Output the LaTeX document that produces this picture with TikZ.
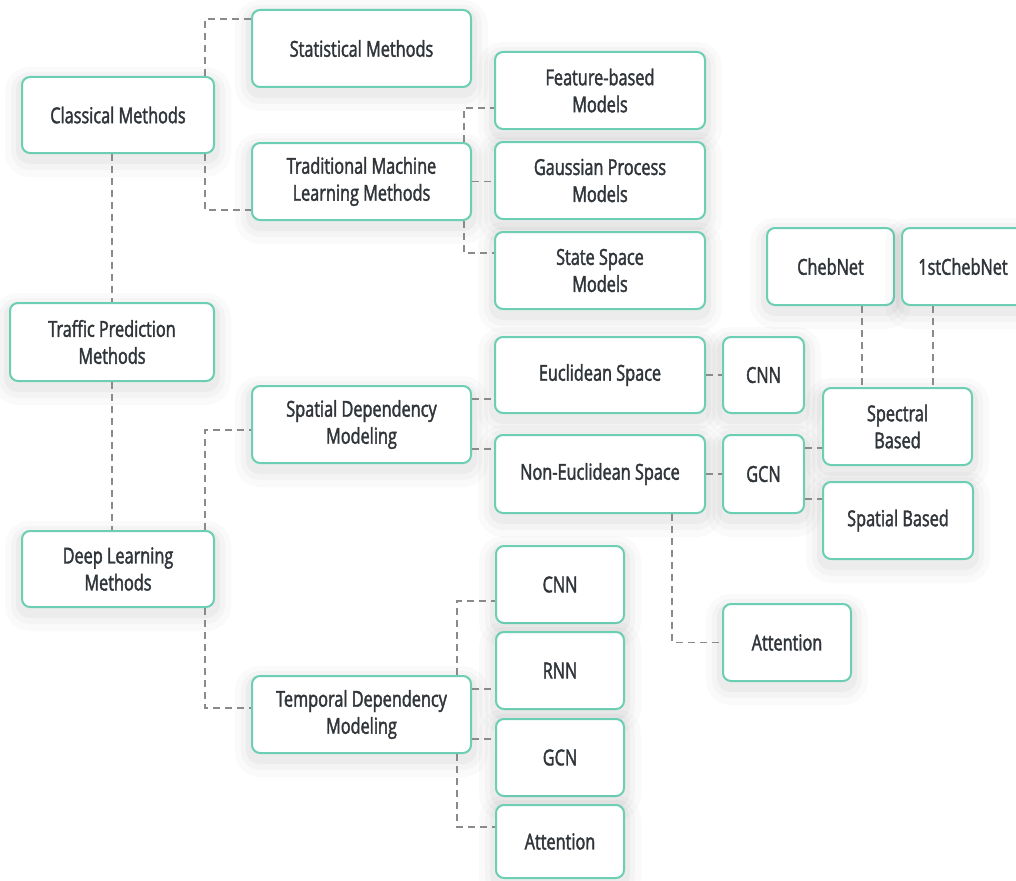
\documentclass[tikz,border=0pt]{standalone}
\usepackage{fontspec}
\setmainfont{Open Sans}[FakeStretch=0.74, FakeBold=1.8]
\definecolor{boxline}{HTML}{6CCFB3}
\definecolor{txt}{HTML}{30353A}
\definecolor{conn}{HTML}{8A8A8A}
\tikzset{
  box/.style={draw=boxline, line width=2pt, rounded corners=8pt, fill=white,
    align=center, text=txt, inner sep=0pt,
    font=\fontsize{22}{27}\selectfont,
    preaction={draw=black, draw opacity=0.018, line width=34pt, transform canvas={yshift=-7pt}},
    preaction={draw=black, draw opacity=0.022, line width=22pt, transform canvas={yshift=-6pt}},
    preaction={draw=black, draw opacity=0.03, line width=12pt, transform canvas={yshift=-5pt}}},
  link/.style={draw=conn, line width=1.9pt, dash pattern=on 7pt off 5pt}
}
\begin{document}
\begin{tikzpicture}[x=1pt,y=-1pt]
\useasboundingbox[fill=white] (0,0) rectangle (1016,880);
% column 1
\node[box, minimum width=192pt, minimum height=76pt] (classical) at (118,115) {Classical Methods};
\node[box, minimum width=204pt, minimum height=78pt] (traffic) at (112,342) {Traffic Prediction\\Methods};
\node[box, minimum width=192pt, minimum height=76pt] (deep) at (118,569) {Deep Learning\\Methods};
% column 2
\node[box, minimum width=219pt, minimum height=77pt] (stat) at (361.5,48.5) {Statistical Methods};
\node[box, minimum width=219pt, minimum height=77pt] (trad) at (361.5,181.5) {Traditional Machine\\Learning Methods};
\node[box, minimum width=219pt, minimum height=77pt] (spdep) at (361.5,424.5) {Spatial Dependency\\Modeling};
\node[box, minimum width=219pt, minimum height=77pt] (temporal) at (361.5,714.5) {Temporal Dependency\\Modeling};
% column 3
\node[box, minimum width=210pt, minimum height=77pt] (feat) at (600,90.5) {Feature-based\\Models};
\node[box, minimum width=210pt, minimum height=77pt] (gauss) at (600,180.5) {Gaussian Process\\Models};
\node[box, minimum width=210pt, minimum height=77pt] (state) at (600,270.5) {State Space\\Models};
\node[box, minimum width=210pt, minimum height=76pt] (eucl) at (600,375) {Euclidean Space};
\node[box, minimum width=210pt, minimum height=78pt] (noneu) at (600,474) {Non-Euclidean Space};
\node[box, minimum width=128pt, minimum height=77pt] (cnn2) at (560,584.5) {CNN};
\node[box, minimum width=128pt, minimum height=77pt] (rnn) at (560,670.5) {RNN};
\node[box, minimum width=128pt, minimum height=77pt] (gcn2) at (560,757.5) {GCN};
\node[box, minimum width=128pt, minimum height=73pt] (att2) at (560,841.5) {Attention};
% column 4
\node[box, minimum width=81pt, minimum height=76pt] (cnn1) at (763.5,375) {CNN};
\node[box, minimum width=81pt, minimum height=78pt] (gcn1) at (763.5,474) {GCN};
\node[box, minimum width=128pt, minimum height=77pt] (att1) at (787,642.5) {Attention};
% column 5
\node[box, minimum width=127pt, minimum height=77pt] (cheb) at (830.5,266.5) {ChebNet};
\node[box, minimum width=122pt, minimum height=77pt] (first) at (963,266.5) {1stChebNet};
\node[box, minimum width=149pt, minimum height=77pt] (spectral) at (897.5,426.5) {Spectral\\Based};
\node[box, minimum width=150pt, minimum height=77pt] (spatialb) at (898,520.5) {Spatial Based};
% connectors
\draw[link] ([xshift=-10pt]classical.north east) |- ([yshift=-10pt]stat.north west);
\draw[link] ([xshift=-10pt]classical.south east) |- ([yshift=11pt]trad.south west);
\draw[link] (traffic.north |- classical.south) -- (traffic.north);
\draw[link] (traffic.south) -- (traffic.south |- deep.north);
\draw[link] ([xshift=-10pt]deep.north east) |- ([yshift=-5.5pt]spdep.west);
\draw[link] ([xshift=-10pt]deep.south east) |- ([yshift=6.5pt]temporal.west);
\draw[link] ([xshift=-8pt]trad.north east) |- ([yshift=-17.5pt]feat.west);
\draw[link] (trad.east) -- (trad.east -| gauss.west);
\draw[link] ([xshift=-8pt]trad.south east) |- ([yshift=17.5pt]state.west);
\draw[link] ([yshift=25.5pt]spdep.east) -- ([yshift=25.5pt]spdep.east -| eucl.west);
\draw[link] ([yshift=-24.5pt]spdep.east) -- ([yshift=-24.5pt]spdep.east -| noneu.west);
\draw[link] (eucl.east) -- (cnn1.west);
\draw[link] (noneu.east) -- (gcn1.west);
\draw[link] ([xshift=-34pt]noneu.south east) |- (att1.west);
\draw[link] ([yshift=26pt]gcn1.east) -- ([yshift=26pt]gcn1.east -| spectral.west);
\draw[link] ([yshift=-25pt]gcn1.east) -- ([yshift=-25pt]gcn1.east -| spatialb.west);
\draw[link] ([xshift=31.5pt]cheb.south) -- ([xshift=31.5pt]cheb.south |- spectral.north);
\draw[link] ([xshift=-30pt]first.south) -- ([xshift=-30pt]first.south |- spectral.north);
\draw[link] ([xshift=-15pt]temporal.north east) |- ([yshift=-16.5pt]cnn2.west);
\draw[link] ([yshift=25.5pt]temporal.east) -- ([yshift=25.5pt]temporal.east -| rnn.west);
\draw[link] ([yshift=-24.5pt]temporal.east) -- ([yshift=-24.5pt]temporal.east -| gcn2.west);
\draw[link] ([xshift=-15pt]temporal.south east) |- ([yshift=14.5pt]att2.west);
\end{tikzpicture}
\end{document}
